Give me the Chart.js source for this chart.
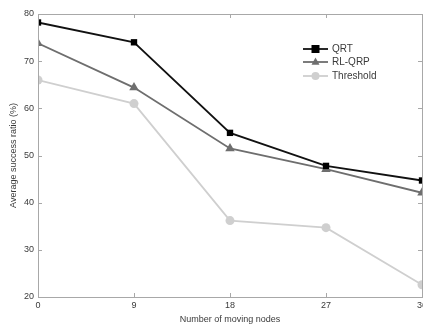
<!DOCTYPE html>
<html>
<head>
<meta charset="utf-8">
<script src="https://cdn.jsdelivr.net/npm/chart.js@4.4.1/dist/chart.umd.min.js"></script>
<style>
  html, body { margin: 0; padding: 0; background: #fff; }
  #wrap { width: 423px; height: 327px; position: relative; }
</style>
</head>
<body>
<div id="wrap"><canvas id="myChart" width="423" height="327"></canvas></div>
<script>
const movingNodes = [0, 9, 18, 27, 36];
const qrtValues = [78.2, 74.0, 54.8, 47.8, 44.7];
const rlqrpValues = [73.8, 64.4, 51.5, 47.1, 42.1];
const thresholdValues = [66.0, 61.0, 36.2, 34.7, 22.6];
const yTicks = [20, 30, 40, 50, 60, 70, 80];

const toPoints = function (values) {
  var pts = [];
  for (let i = 0; i < movingNodes.length; i++) {
    pts.push({ x: movingNodes[i], y: values[i] });
  }
  return pts;
};

const axisColor = "#a8a8a8";
const textColor = "#3a3a3a";
const fontFamily = "'Liberation Sans', Arial, sans-serif";

// box round the plot with matlab-style ticks pointing inward
const boxPlugin = {
  id: "boxTicks",
  afterDraw(chart) {
    const { ctx, chartArea: a, scales } = chart;
    ctx.save();
    ctx.strokeStyle = axisColor;
    ctx.lineWidth = 1;
    ctx.strokeRect(a.left + 0.5, a.top + 0.5, a.right - a.left, a.bottom - a.top);
    ctx.beginPath();
    for (let v of movingNodes) {
      const x = Math.round(scales.x.getPixelForValue(v)) + 0.5;
      ctx.moveTo(x, a.bottom); ctx.lineTo(x, a.bottom - 4);
      ctx.moveTo(x, a.top); ctx.lineTo(x, a.top + 4);
    }
    for (let v of yTicks) {
      const y = Math.round(scales.y.getPixelForValue(v)) + 0.5;
      ctx.moveTo(a.left, y); ctx.lineTo(a.left + 4, y);
      ctx.moveTo(a.right, y); ctx.lineTo(a.right - 4, y);
    }
    ctx.stroke();
    ctx.restore();
  },
};

const drawMarker = function (ctx, style, x, y, r, color) {
  ctx.fillStyle = color;
  ctx.beginPath();
  if (style === "rect") {
    ctx.rect(x - r, y - r, 2 * r, 2 * r);
  } else if (style === "triangle") {
    ctx.moveTo(x, y - r * 1.1);
    ctx.lineTo(x + r, y + r * 0.7);
    ctx.lineTo(x - r, y + r * 0.7);
    ctx.closePath();
  } else {
    ctx.arc(x, y, r, 0, Math.PI * 2);
  }
  ctx.fill();
};

// legend drawn inside the plot, no frame
const legendPlugin = {
  id: "innerLegend",
  afterDraw(chart) {
    const ctx = chart.ctx;
    const x0 = 303, x1 = 328, tx = 332;
    const rows = [49, 62, 76];
    ctx.save();
    ctx.font = "10px " + fontFamily;
    ctx.textBaseline = "middle";
    chart.data.datasets.forEach(function (ds, i) {
      const y = rows[i];
      ctx.strokeStyle = ds.borderColor;
      ctx.lineWidth = ds.borderWidth;
      ctx.beginPath();
      ctx.moveTo(x0, y); ctx.lineTo(x1, y);
      ctx.stroke();
      drawMarker(ctx, ds.pointStyle, (x0 + x1) / 2, y, 4, ds.pointBackgroundColor);
      ctx.fillStyle = textColor;
      ctx.fillText(ds.label, tx, y + 0.5);
    });
    ctx.restore();
  },
};

const config = {
  type: "line",
  data: {
    datasets: [
      {
        label: "QRT",
        data: toPoints(qrtValues),
        borderColor: "#111111",
        borderWidth: 1.8,
        pointStyle: "rect",
        pointRadius: 4.5,
        pointBackgroundColor: "#000000",
        pointBorderWidth: 0,
      },
      {
        label: "RL-QRP",
        data: toPoints(rlqrpValues),
        borderColor: "#6e6e6e",
        borderWidth: 1.8,
        pointStyle: "triangle",
        pointRadius: 5.5,
        pointBackgroundColor: "#6e6e6e",
        pointBorderWidth: 0,
      },
      {
        label: "Threshold",
        data: toPoints(thresholdValues),
        borderColor: "#cfcfcf",
        borderWidth: 1.8,
        pointStyle: "circle",
        pointRadius: 4.5,
        pointBackgroundColor: "#cfcfcf",
        pointBorderWidth: 0,
      },
    ],
  },
  options: {
    responsive: false,
    animation: false,
    layout: {
      // no room reserved for markers, the last x label runs off the edge
      autoPadding: false,
      padding: { top: 14, right: 1, left: 0, bottom: 0 },
    },
    scales: {
      x: {
        type: "linear",
        min: 0,
        max: 36,
        afterBuildTicks: function (scale) {
          scale.ticks = movingNodes.map((v) => ({ value: v }));
        },
        afterFit: function (scale) {
          scale.height = 30;
          scale.paddingLeft = 0;
          scale.paddingRight = 0;
        },
        grid: { display: false, drawTicks: false },
        border: { display: false },
        ticks: {
          color: textColor,
          font: { size: 9, family: fontFamily },
          padding: 3,
          maxRotation: 0,
        },
        title: {
          display: true,
          text: "Number of moving nodes",
          color: textColor,
          font: { size: 9, family: fontFamily },
          padding: { top: 0, bottom: 2 },
        },
      },
      y: {
        min: 20,
        max: 80,
        afterBuildTicks: function (scale) {
          scale.ticks = yTicks.map((v) => ({ value: v }));
        },
        afterFit: function (scale) { scale.width = 38; },
        grid: { display: false, drawTicks: false },
        border: { display: false },
        ticks: {
          color: textColor,
          font: { size: 9, family: fontFamily },
          padding: 4,
        },
        title: {
          display: true,
          text: "Average success ratio (%)",
          color: textColor,
          font: { size: 9, family: fontFamily },
          padding: { top: 8, bottom: 0 },
        },
      },
    },
    plugins: {
      legend: { display: false },
      tooltip: { enabled: false },
    },
  },
  plugins: [boxPlugin, legendPlugin],
};

const ctx = document.getElementById("myChart");
const successChart = new Chart(ctx, config);
</script>
</body>
</html>
